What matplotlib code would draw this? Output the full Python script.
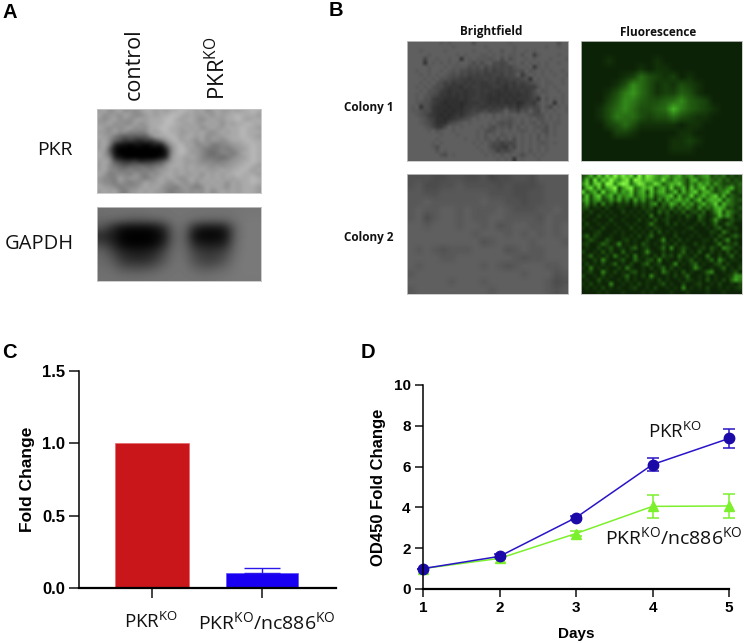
import matplotlib
matplotlib.use('Agg')
import matplotlib.pyplot as plt
import numpy as np
from matplotlib.colors import LinearSegmentedColormap

plt.rcParams['mathtext.fontset'] = 'custom'
plt.rcParams['mathtext.rm'] = 'Open Sans'
plt.rcParams['mathtext.default'] = 'regular'

W, H = 744, 643

# panel C
bar_labels = ['PKR$^{KO}$', 'PKR$^{KO}$/nc886$^{KO}$']
bar_values = [1.0, 0.105]
bar_errors = [0.0, 0.03]
bar_ticks = [0, 0.5, 1.0, 1.5]

# panel D
days = [1, 2, 3, 4, 5]
pkr_ko = [1.0, 1.6, 3.5, 6.1, 7.38]
pkr_ko_err = [0.0, 0.1, 0.1, 0.3, 0.45]
double_ko = [1.0, 1.5, 2.72, 4.05, 4.07]
double_ko_err = [0.0, 0.05, 0.1, 0.55, 0.58]
od_ticks = [0, 2, 4, 6, 8, 10]

# blots, one hex digit per cell, grey levels
blot_pkr = [
    '9a89a8989aa9a9aabaa9a89a99a9aaba',
    'a8998a9889a9aabba9a99a8a9aabaaa9',
    '989a8989a9aaabba9aa989a99aaba9aa',
    '99a8988a89aaabbaa9a99a9a8a9aabaa',
    'a98989a898aabbaa9a9a89a99aaabaa9',
    '998a897878a9abaa99a9a989a9aabaaa',
    'a9976565658aaaba9aa9a8999aaabaa9',
    '9a865343243579ab9a98a89989aaabaa',
    '9a8211011012169ab9a889778899aaba',
    '9a5100000000028aba99877787899aba',
    'a96100000000018aba9987678878aaba',
    'a98210000000129aa9a9877767899aba',
    '9a9543342334579aa99988878899aaba',
    '9a876566766779aaa9a99989899aaba9',
    '9a887787787899a9a9a9a999a9aaba9a',
    'a978887987989aa9a99a8a9a9aabaaa9',
    '9887a8998789a9a989a99a9a9a9aaaba',
    '988798788a99a98a98a8a9a9a8a9aaba',
    'a99878889a9a988799878a9a98a9aaa9',
    '9a9a8799a9a9987889898a89a9a9aaa9',
]
blot_gapdh = [
    [110, 112, 112, 112, 112, 115, 115, 115, 115, 115, 115, 115, 115, 115, 118, 118],
    [105, 105, 100, 95, 95, 100, 105, 115, 115, 110, 105, 105, 105, 115, 120, 120],
    [85, 45, 12, 8, 8, 12, 40, 105, 110, 40, 20, 20, 30, 100, 122, 122],
    [40, 25, 2, 0, 0, 2, 18, 100, 105, 12, 4, 4, 12, 100, 122, 122],
    [70, 40, 6, 2, 2, 6, 35, 105, 105, 40, 25, 25, 35, 105, 122, 122],
    [100, 70, 38, 28, 28, 38, 70, 110, 110, 70, 55, 55, 70, 110, 122, 122],
    [105, 90, 55, 45, 45, 55, 85, 112, 112, 80, 65, 65, 85, 115, 122, 122],
    [110, 105, 85, 80, 80, 90, 105, 115, 115, 100, 90, 95, 105, 118, 122, 122],
    [112, 112, 110, 110, 110, 112, 115, 115, 115, 115, 112, 115, 118, 120, 120, 120],
]

# microscope fields, one hex digit per cell
bright_1 = [
    'aaaaaaaa9a9aaaaa7aaaaaaaa9aaaaaaaaaaa7aa',
    'aaaaaaaaaaa9aaaaaaa9aaaaaa9aaaaaaa9aa9aa',
    'aaa9aaaaa9aaaaaa9aaa9aa8aa9aa9a9aaaaaaaa',
    'aaaaa9aaaaaa9a9aaa99a9a9a99a8aa59aaaa9aa',
    'aaaa6aa9aa9aa3a9a99989a7a79aa9a9aaa9aaa9',
    'aaaa3a9a9a9a9aa97979a7767a9a8a9a9a9aa9aa',
    'aaaaa9aaa9a99997879686767689a9a49a9aaaaa',
    'aa9aa9aa9a9897767675756676787a89a9a9aa9a',
    'aaa9a9a9a987867565655665767a48a9a9aa9aa9',
    'aaaa9a9a88766554555656455666783a9a9aaa9a',
    'aaa9a9a87564554545445545454656789a99aa9a',
    'aa9a9a877544435455444554354545558a9a9aaa',
    'aaa9a887543444344545443434445457a89aa9aa',
    'aa9a98764434343445443433434344578a9aaa9a',
    'aa9a88544333343455443334343444563a8a9a9a',
    'aa9887543233323444543434334235548a9a3a9a',
    'a9a387433323324455445454645356767a86a9a9',
    'a99877433232334565675667a77587a76a9a9aa9',
    'aa9875432323435678a9a8a9a9a9a98778a9a9aa',
    'aaa9865332345678a9aaa9a9989a9a9a88a9a9aa',
    'aaa98753336789a9aaaa9a87879a8a98a89a99aa',
    'aaaa986447a9a9aaaa9a879897a8a9a9897a9aaa',
    'aaaaa9a89aa9aaaaa9a878a9a9a989a9a87a9aaa',
    'aaaaaaaa9aaa9aaaa9a8a9a89a9a9a9a8a8a9aaa',
    'aaaaaaa9aaaaaa9aa9a89a7a8a7a9a9a8a9aaaaa',
    'aaaaaa9a9aaaaaaa9a9a8775767a9a9a989a9aaa',
    'aaaaaa97aaaaaaaaa9aa8665486a9a9a9a9aaaaa',
    'aaaaaaa8a9aaaaaaaa9a9857679a9a8a9a9aaaaa',
    'aaaaaaaa87a9aaaaaaa9a9a8a9a979a9a9aaaaaa',
    'aaaaaaaaaaaaaaaaaaaaaa9a9a3a9aaa9aaaaaaa',
]
bright_2 = [
    '88877887786778879999',
    '89778898888787778999',
    '99889999998887788999',
    '99a999999a9988788999',
    '9a99aa9a999a988899a9',
    '9a79aa9a99aa99998a99',
    'aa9aaa9aa9a89aa99a9a',
    'aaaaaaaa9aaa9a9a9a9a',
    'aaaaaaaaa89aaaa9aaa9',
    'a9a98999aaaa89a99aaa',
    'aaaa99aaaaaaa9899aaa',
    'a9aaaaaaa9a989aaa99a',
    '9aaaaaaaaaaaaa9aaa89',
    'aaaaa9aaa9aaaaaaa978',
    '9aaaaaaaaa9aaaaaa989',
]
green_1 = [
    '11111111111111111111',
    '11111111111111111111',
    '11121111121111111111',
    '11111112122111111111',
    '11111236432312111111',
    '11112486423243211111',
    '11124796423354211111',
    '11135875445685431111',
    '11246864456b75432111',
    '11247664344643221111',
    '11134642222212211111',
    '11113321111122111111',
    '11111111111223211111',
    '11111111111222111111',
    '11111111111111111111',
]
green_2 = [
    '35a4c6d8f9ead5f8ec979a68a579468935462423',
    '4b3e5c8fa7be5fd9cb87d75a8639a46854635243',
    '7c4bd5fe6cfd59ec78da47a9c6385a7948533435',
    '3ad5c49bf38ce57b9c48a5c46a3b59c483647a34',
    'c47a3d58b497c48a3b59a46b3a59c49a6357a324',
    '4b39c47a3968a4795a3679b3a46c47a69c4a3532',
    '6a3793484937294835273958a6937b38a9b38534',
    '3825172413231524268154a7395836a57c3a6532',
    '3412213112211213241342625374283649a83424',
    '2131121211312121321524132513425137b38532',
    '1211312121121212161213212142153124a58413',
    '2112111311211131214123112121142138312422',
    '1311212121121211262113131211213125125311',
    '2121131112113121213211211123111213512231',
    '1112311121211212131412121211211132163121',
    '2513211211212131251121131112121121421352',
    '1242114211231211311271213121112214137121',
    '2311253127121214212132131211312112613241',
    '1211312412213512311251712421123142175312',
    '3112141311512112721131212512141131214131',
    '1251213162131612213142315221311611312512',
    '2113172112411521341712113124121251731221',
    '1312131251213113512311271213512113413112',
    '2161212113162112131251312112731121251213',
    '1231172131213412112163121412112571121241',
    '3112131211251213172112131251121312112387',
    '1211412112131211221312112132121412131596',
    '2131211711212131211241211311231121311213',
    '1212131212112311213112121712121311212123',
    '1111212111211112121111211121111211121111',
]

green_map = LinearSegmentedColormap.from_list('gfp', [(0, '#0a1c05'), (0.55, '#3c9f1f'), (1, '#8cff45')])


def px_axes(x0, y0, x1, y1):
    return fig.add_axes([x0 / W, 1 - y1 / H, (x1 - x0) / W, (y1 - y0) / H])


def label(x, y, s, **kw):
    kw.setdefault('ha', 'center')
    kw.setdefault('va', 'center')
    fig.text(x / W, 1 - y / H, s, **kw)


def hex_grid(rows):
    return np.array([[int(c, 16) for c in r.ljust(len(rows[0]), '9')[:len(rows[0])]] for r in rows], dtype=float)


def show(box, grid, interp='bilinear', **kw):
    ax = px_axes(*box)
    ax.imshow(grid, aspect='auto', interpolation=interp, **kw)
    ax.set_xticks([])
    ax.set_yticks([])
    for s in ax.spines.values():
        s.set_color('#c4c4c4')
        s.set_linewidth(0.6)


fig = plt.figure(figsize=(W / 100, H / 100), dpi=100)

# A
show((97, 109, 261, 193), 17 * hex_grid(blot_pkr), 'bicubic', cmap='gray', vmin=0, vmax=255)
show((97, 207, 261, 281), np.array(blot_gapdh), 'bicubic', cmap='gray', vmin=0, vmax=255)
open_sans = 'Open Sans'
label(134, 100, 'control', rotation=90, va='bottom', family=open_sans, fontsize=15.5, color='#111111')
label(218, 100, 'PKR$^{KO}$', rotation=90, va='bottom', family=open_sans, fontsize=16, color='#111111')
label(73, 150, 'PKR', ha='right', family=open_sans, fontsize=14, color='#111111')
label(74, 244, 'GAPDH', ha='right', family=open_sans, fontsize=14.5, color='#111111')

# B
show((407, 41, 568, 161), 30 + 6.5 * hex_grid(bright_1), cmap='gray', vmin=0, vmax=255)
show((581, 41, 742, 161), hex_grid(green_1), cmap=green_map, vmin=0.5, vmax=17)
show((407, 174, 568, 294), 30 + 6.5 * hex_grid(bright_2), cmap='gray', vmin=0, vmax=255)
show((581, 174, 742, 294), hex_grid(green_2), cmap=green_map, vmin=0.5, vmax=15)
label(491, 32, 'Brightfield', family=open_sans, fontweight='bold', fontsize=8.5, color='#111111')
label(658, 32, 'Fluorescence', family=open_sans, fontweight='bold', fontsize=8.5, color='#111111')
label(394, 108, 'Colony 1', ha='right', family=open_sans, fontweight='bold', fontsize=8.5, color='#111111')
label(394, 237, 'Colony 2', ha='right', family=open_sans, fontweight='bold', fontsize=8.5, color='#111111')

# C
ax = px_axes(79, 371, 336, 588)
ax.bar(0, bar_values[0], width=0.67, color='#c8161a', edgecolor='#e2686a', linewidth=0.5)
ax.bar(1, bar_values[1], width=0.66, color='#1a00f0', edgecolor='#5a50f5', linewidth=0.5)
ax.errorbar(1, bar_values[1], yerr=[[0], [bar_errors[1]]], color='#2a18e8', capsize=13, lw=1.0, capthick=1.0)
ax.set_xlim(-0.664, 1.673)
ax.set_ylim(0, 1.5)
ax.set_xticks([0, 1])
ax.set_xticklabels(['', ''])
ax.set_yticks(bar_ticks)
ax.set_yticklabels(['%.1f' % t for t in bar_ticks], family='Liberation Sans', fontweight='bold', fontsize=12)
ax.tick_params(axis='both', length=7, width=1.1, color='#111111')
ax.tick_params(axis='y', pad=3)
ax.set_ylabel('Fold Change', family='Liberation Sans', fontweight='bold', fontsize=12.5, labelpad=5)
ax.spines[['top', 'right']].set_visible(False)
ax.spines['left'].set_linewidth(1.1)
ax.spines['bottom'].set_linewidth(1.6)
label(151, 622, bar_labels[0], family=open_sans, fontsize=13.5, color='#111111')
label(267, 622, bar_labels[1], family=open_sans, fontsize=14, color='#111111')

# D
ax = px_axes(423, 385, 729, 589)
ax.errorbar(days, double_ko, yerr=double_ko_err, color='#7cf02c', marker='^', ms=7.5, lw=1.1, capsize=4, capthick=1.1, clip_on=False)
ax.errorbar(days, pkr_ko, yerr=pkr_ko_err, color='#2a14c8', mfc='#1c0aa8', mec='#1c0aa8', marker='o', ms=7.5, lw=1.1, capsize=4, capthick=1.1, clip_on=False)
ax.set_xlim(1, 5)
ax.set_ylim(0, 10)
ax.set_xticks(days)
ax.set_yticks(od_ticks)
for t in ax.get_xticklabels() + ax.get_yticklabels():
    t.set_family('Liberation Sans')
    t.set_fontweight('bold')
    t.set_fontsize(11)
ax.tick_params(axis='both', length=6, width=1.1, color='#111111', pad=3)
ax.set_ylabel('OD450 Fold Change', family='Liberation Sans', fontweight='bold', fontsize=12, labelpad=5)
ax.yaxis.set_label_coords((386 - 423) / 306, 0.5)
ax.set_xlabel('Days', family='Liberation Sans', fontweight='bold', fontsize=11, labelpad=8)
ax.spines[['top', 'right']].set_visible(False)
ax.spines['left'].set_linewidth(1.1)
ax.spines['bottom'].set_linewidth(1.6)
label(675, 432, bar_labels[0], family=open_sans, fontsize=13.5, color='#111111')
label(674, 537, bar_labels[1], family=open_sans, fontsize=14, color='#111111')

# panel letters
for x, y, s in [(10, 12, 'A'), (336, 11, 'B'), (9, 352, 'C'), (368, 352, 'D')]:
    label(x, y, s, family='Liberation Sans', fontweight='bold', fontsize=14.5, color='black')

fig.savefig('out.png', dpi=100)
